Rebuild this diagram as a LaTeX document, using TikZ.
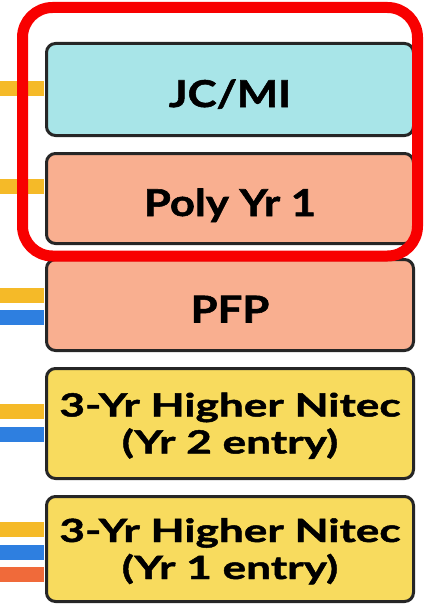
\documentclass[tikz,border=0pt]{standalone}
\usepackage{fontspec}
\setmainfont{Lato}
\newfontfamily\onelinefont{Lato}[FakeStretch=1.18, BoldFeatures={FakeBold=1.5}]
\newfontfamily\twolinefont{Lato}[FakeStretch=1.38, BoldFeatures={FakeBold=1.5}]
\definecolor{jcfill}{HTML}{A8E5E8}
\definecolor{polyfill}{HTML}{F9AF90}
\definecolor{nitecfill}{HTML}{F8DB5E}
\definecolor{routeyellow}{HTML}{F5BA28}
\definecolor{routeblue}{HTML}{2E7FE0}
\definecolor{routeorange}{HTML}{F06A3A}
\definecolor{markred}{HTML}{F80000}

\begin{document}
\begin{tikzpicture}[x=1pt, y=-1pt,
    prog/.style={draw=black!85, line width=3pt, rounded corners=9pt, inner sep=0pt,
        minimum width=367pt, align=center, text height=38pt, text depth=3pt,
        font=\onelinefont\bfseries\fontsize{37}{40}\selectfont},
    twoline/.style={text height=66pt, text depth=6pt, font=\twolinefont\bfseries\fontsize{32}{37}\selectfont},
    route/.style={line width=15pt}]
    \useasboundingbox (0,0) rectangle (424,607);
    \node[prog, fill=jcfill, minimum height=92pt](jcmi) at (230,89.5){JC/MI};
    \node[prog, fill=polyfill, minimum height=90pt](poly) at (230,198.5){Poly Yr 1};
    \node[prog, fill=polyfill, minimum height=91pt](pfp) at (230,305){PFP};
    \node[prog, twoline, fill=nitecfill, minimum height=110pt](nitectwo) at (230,423.5){3-Yr Higher Nitec\\(Yr 2 entry)};
    \node[prog, twoline, fill=nitecfill, minimum height=105pt](nitecone) at (230,549){3-Yr Higher Nitec\\(Yr 1 entry)};
    % entry routes
    \coordinate (jcin) at (0,89);
    \coordinate (polyin) at (0,186.5);
    \coordinate (pfpin) at (0,295);
    \coordinate (twoin) at (0,411.5);
    \coordinate (onein) at (0,529.5);
    \draw[route, routeyellow](jcin)--([xshift=-1.5pt]jcmi.west |- jcin);
    \draw[route, routeyellow](polyin)--([xshift=-1.5pt]poly.west |- polyin);
    \draw[route, routeyellow](pfpin)--([xshift=-1.5pt]pfp.west |- pfpin);
    \draw[route, routeblue]([yshift=-22.5pt]pfpin)--([xshift=-1.5pt,yshift=-22.5pt]pfp.west |- pfpin);
    \draw[route, routeyellow](twoin)--([xshift=-1.5pt]nitectwo.west |- twoin);
    \draw[route, routeblue]([yshift=-23pt]twoin)--([xshift=-1.5pt,yshift=-23pt]nitectwo.west |- twoin);
    \draw[route, routeyellow](onein)--([xshift=-1.5pt]nitecone.west |- onein);
    \draw[route, routeblue]([yshift=-22.5pt]onein)--([xshift=-1.5pt,yshift=-22.5pt]nitecone.west |- onein);
    \draw[route, routeorange]([yshift=-45pt]onein)--([xshift=-1.5pt,yshift=-45pt]nitecone.west |- onein);
    % highlight
    \draw[markred, line width=11pt, rounded corners=30pt](22.5,7.5) rectangle (417.5,256);
\end{tikzpicture}
\end{document}
